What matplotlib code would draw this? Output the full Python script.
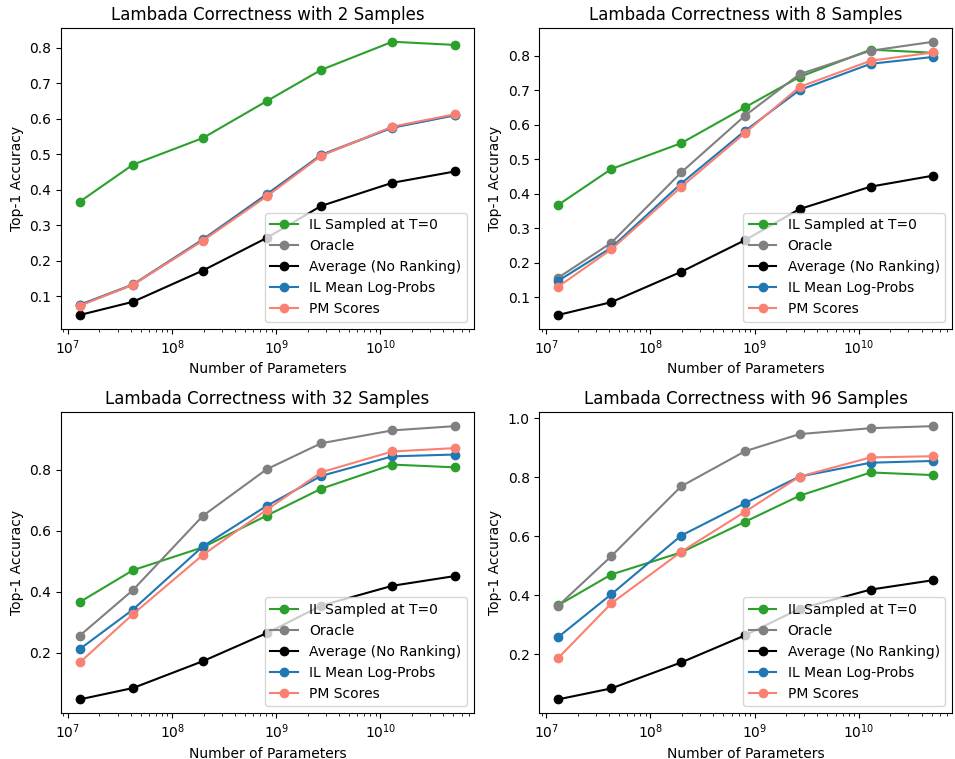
import numpy as np
import matplotlib
matplotlib.use("Agg")
import matplotlib.pyplot as plt

# model sizes (number of parameters)
n_params = [1.3e7, 4.2e7, 1.97e8, 8.1e8, 2.7e9, 1.3e10, 5.2e10]
sample_counts = [2, 8, 32, 96]

# same for every panel
il_t0 = [0.367, 0.471, 0.546, 0.650, 0.738, 0.817, 0.808]
average = [0.048, 0.085, 0.173, 0.265, 0.355, 0.420, 0.452]

# per sample count
oracle = {
    2: [0.077, 0.134, 0.261, 0.388, 0.499, 0.576, 0.611],
    8: [0.156, 0.257, 0.461, 0.626, 0.746, 0.814, 0.840],
    32: [0.257, 0.406, 0.649, 0.802, 0.887, 0.929, 0.943],
    96: [0.365, 0.533, 0.770, 0.889, 0.947, 0.967, 0.974],
}
il_logprobs = {
    2: [0.076, 0.133, 0.259, 0.387, 0.498, 0.575, 0.610],
    8: [0.147, 0.243, 0.429, 0.582, 0.700, 0.776, 0.796],
    32: [0.213, 0.342, 0.549, 0.682, 0.780, 0.844, 0.850],
    96: [0.259, 0.404, 0.603, 0.713, 0.803, 0.850, 0.856],
}
pm_scores = {
    2: [0.074, 0.133, 0.257, 0.382, 0.496, 0.578, 0.613],
    8: [0.130, 0.238, 0.419, 0.576, 0.709, 0.785, 0.809],
    32: [0.169, 0.327, 0.521, 0.669, 0.792, 0.860, 0.871],
    96: [0.188, 0.373, 0.548, 0.684, 0.803, 0.868, 0.872],
}

fig, axes = plt.subplots(2, 2, figsize=(9.55, 7.59), dpi=100)
plt.subplots_adjust(left=0.064, right=0.997, bottom=0.0606, top=0.963,
                    wspace=0.159, hspace=0.279)

for ax, k in zip(axes.flat, sample_counts):
    ax.plot(n_params, il_t0, marker='o', color='tab:green', label='IL Sampled at T=0')
    ax.plot(n_params, oracle[k], marker='o', color='gray', label='Oracle')
    ax.plot(n_params, average, marker='o', color='black', label='Average (No Ranking)')
    ax.plot(n_params, il_logprobs[k], marker='o', color='tab:blue', label='IL Mean Log-Probs')
    ax.plot(n_params, pm_scores[k], marker='o', color='salmon', label='PM Scores')
    ax.set_xscale('log')
    ax.set_xlabel('Number of Parameters')
    ax.set_ylabel('Top-1 Accuracy')
    ax.set_title(f'Lambada Correctness with {k} Samples')
    ax.legend(loc='lower right')

fig.savefig('out.png', dpi=100)
